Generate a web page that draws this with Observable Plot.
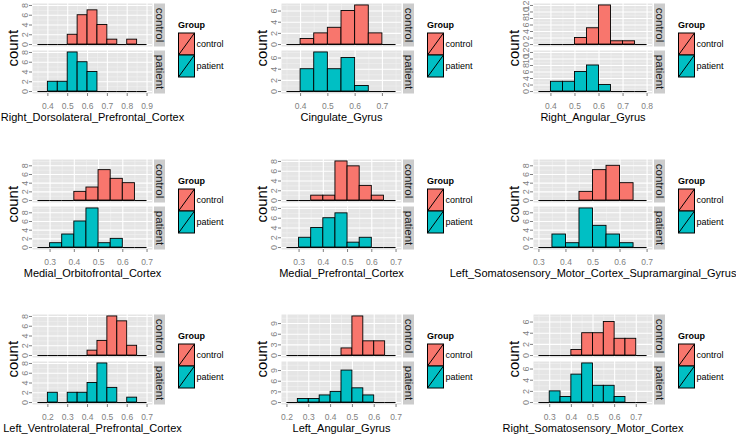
<!DOCTYPE html>
<html>
<head>
<meta charset="utf-8">
<script src="https://cdn.jsdelivr.net/npm/d3@7"></script>
<script src="https://cdn.jsdelivr.net/npm/@observablehq/plot@0.6"></script>
<style>
  html, body { margin: 0; padding: 0; background: white; }
  #chart { position: relative; width: 736px; height: 443px; overflow: hidden; background: white; }
  #chart > svg, #chart > figure { position: absolute; margin: 0; }
</style>
</head>
<body>
<div id="chart"></div>
<script>
// ---------------- data ----------------
const regions = [
  "Right_Dorsolateral_Prefrontal_Cortex", "Cingulate_Gyrus", "Right_Angular_Gyrus",
  "Medial_Orbitofrontal_Cortex", "Medial_Prefrontal_Cortex", "Left_Somatosensory_Motor_Cortex_Supramarginal_Gyrus",
  "Left_Ventrolateral_Prefrontal_Cortex", "Left_Angular_Gyrus", "Right_Somatosensory_Motor_Cortex"
];
const groups = ["control", "patient"];
const binLow = [0.35, 0.35, 0.35, 0.25, 0.25, 0.30, 0.15, 0.20, 0.25];
const binWidth = 0.05;
const controlCounts = [
  [0, 0, 0, 2, 6, 7, 4, 1, 0, 1, 0],
  [0, 1, 2, 3, 6, 7, 2, 0],
  [0, 0, 0, 2, 5, 12, 1, 1, 0],
  [0, 0, 0, 2, 3, 7, 5, 4, 0],
  [0, 0, 1, 1, 8, 7, 3, 1, 0],
  [0, 0, 0, 2, 7, 8, 4, 0],
  [0, 0, 0, 0, 0, 1, 3, 8, 7, 2, 0],
  [0, 0, 0, 0, 0, 2, 11, 4, 4, 0],
  [0, 0, 0, 1, 4, 4, 6, 3, 3, 0]
];
const patientCounts = [
  [0, 2, 2, 8, 6, 4, 0, 0, 0, 0, 0],
  [0, 4, 7, 4, 6, 1, 0, 0],
  [0, 3, 3, 6, 8, 2, 0, 0, 0],
  [0, 1, 3, 6, 9, 1, 2, 0, 0],
  [0, 2, 4, 6, 7, 1, 2, 0, 0],
  [0, 3, 1, 9, 5, 3, 1, 0],
  [0, 2, 0, 2, 2, 4, 8, 3, 0, 1, 0],
  [0, 1, 1, 2, 3, 9, 4, 2, 0, 0],
  [0, 2, 1, 5, 7, 3, 3, 1, 0, 0]
];
const xTicks = [
  [0.4, 0.5, 0.6, 0.7, 0.8, 0.9],
  [0.4, 0.5, 0.6, 0.7],
  [0.4, 0.5, 0.6, 0.7, 0.8],
  [0.3, 0.4, 0.5, 0.6, 0.7],
  [0.3, 0.4, 0.5, 0.6, 0.7],
  [0.3, 0.4, 0.5, 0.6, 0.7],
  [0.2, 0.3, 0.4, 0.5, 0.6, 0.7],
  [0.2, 0.3, 0.4, 0.5, 0.6, 0.7],
  [0.3, 0.4, 0.5, 0.6, 0.7]
];
const yTicks = [
  [0, 2, 4, 6, 8],
  [0, 2, 4, 6],
  [0, 2, 4, 6, 8, 10, 12],
  [0, 2, 4, 6, 8],
  [0, 2, 4, 6, 8],
  [0, 2, 4, 6, 8],
  [0, 2, 4, 6, 8],
  [0, 3, 6, 9],
  [0, 2, 4, 6]
];
const groupColors = ["#F8766D", "#00BFC4"];
const legendTitle = "Group";
const yLabel = "count";

// ---------------- layout / style ----------------
const FONT = "'Liberation Sans', Arial, Helvetica, sans-serif";
const colX = [0, 245, 490];
const rowY = [0, 156, 311];
const frameL = [32, 281, 533];
const frameR = [152, 401, 652];
const COLW = 245, PH = 140;
const TOP = 3, BOTTOM = 93.5;
const GREY = "#7F7F7F";

function minorOf(ticks, lo, hi) {
  const step = ticks[1] - ticks[0];
  const m = ticks.map(v => v - step / 2).concat([ticks[ticks.length - 1] + step / 2]);
  return m.filter(v => v > lo && v < hi);
}

const chart = document.getElementById("chart");

regions.forEach((name, i) => {
  const r = Math.floor(i / 3), c = i % 3;
  const bins = [];
  [controlCounts[i], patientCounts[i]].forEach((arr, gi) => {
    arr.forEach((n, k) => bins.push({
      group: groups[gi],
      x1: binLow[i] + k * binWidth,
      x2: binLow[i] + (k + 1) * binWidth,
      n
    }));
  });
  const lo = binLow[i], hi = binLow[i] + controlCounts[i].length * binWidth;
  const M = d3.max(bins, d => d.n);
  const xd = [lo - 0.05 * (hi - lo), hi + 0.05 * (hi - lo)];
  const yd = [-0.05 * M, 1.05 * M];
  const mL = frameL[c] - colX[c];
  const mR = COLW - (frameR[c] - colX[c]);
  const innerW = COLW - mL - mR;

  const svg = Plot.plot({
    width: COLW,
    height: PH,
    marginLeft: mL,
    marginRight: mR,
    marginTop: TOP,
    marginBottom: PH - BOTTOM,
    style: {background: "transparent", overflow: "visible", fontFamily: FONT},
    x: {domain: xd},
    y: {domain: yd},
    fy: {domain: groups, paddingInner: 0.095, paddingOuter: 0, axis: null},
    color: {domain: groups, range: groupColors},
    marks: [
      Plot.frame({fill: "#E5E5E5", stroke: "none"}),
      Plot.ruleX(minorOf(xTicks[i], xd[0], xd[1]), {stroke: "#F2F2F2", strokeWidth: 0.6}),
      Plot.ruleY(minorOf(yTicks[i], yd[0], yd[1]), {stroke: "#F2F2F2", strokeWidth: 0.6}),
      Plot.ruleX(xTicks[i], {stroke: "white", strokeWidth: 1.1}),
      Plot.ruleY(yTicks[i], {stroke: "white", strokeWidth: 1.1}),
      Plot.ruleY(bins, {fy: "group", x1: "x1", x2: "x2", y: 0, stroke: "black", strokeWidth: 1}),
      Plot.rect(bins.filter(d => d.n > 0), {
        fy: "group", x1: "x1", x2: "x2", y1: 0, y2: "n",
        fill: "group", stroke: "black", strokeWidth: 0.9
      }),
      Plot.frame({fill: "#CCCCCC", stroke: "none", insetLeft: innerW + 1.5, insetRight: -12.5}),
      Plot.text(groups, {
        fy: d => d, text: d => d, frameAnchor: "right", dx: 7, rotate: 90,
        textAnchor: "middle", lineAnchor: "middle",
        fontSize: 11.5, fill: "#1A1A1A"
      }),
      Plot.axisX({
        ticks: xTicks[i], tickFormat: d3.format(".1f"), tickSize: 3, tickPadding: 6,
        color: GREY, fontSize: 8.5, label: null
      }),
      Plot.axisY({
        ticks: yTicks[i], tickFormat: d3.format("d"), tickSize: 3, tickPadding: 2, tickRotate: -90,
        color: GREY, fontSize: 9, label: null
      }),
      Plot.text([{g: "patient", t: name}], {
        fy: "g", text: "t", frameAnchor: "bottom", dy: 27.5,
        textAnchor: "middle", fontSize: 11, fill: "black"
      })
    ]
  });
  svg.style.left = colX[c] + "px";
  svg.style.top = rowY[r] + "px";
  chart.appendChild(svg);
});

// ---------------- overlay: y titles and legends ----------------
const ov = d3.select(chart).append("svg")
  .attr("width", 736).attr("height", 443)
  .style("left", "0px").style("top", "0px")
  .style("overflow", "visible").style("pointer-events", "none");

regions.forEach((name, i) => {
  const r = Math.floor(i / 3), c = i % 3;
  const oy = rowY[r];
  // y axis title
  ov.append("text")
    .attr("transform", `translate(${frameL[c] - 19},${oy + (TOP + BOTTOM) / 2}) rotate(-90)`)
    .attr("text-anchor", "middle").attr("dy", "0.35em")
    .style("font-family", FONT).style("font-size", "15px").attr("fill", "black")
    .text(yLabel);
  // legend
  const lx = frameR[c] + 26;
  const g = ov.append("g").attr("transform", `translate(${lx},${oy})`);
  g.append("text").attr("x", 0).attr("y", 25).attr("dy", "0.35em")
    .style("font-family", FONT).style("font-size", "9px").style("font-weight", "bold")
    .text(legendTitle);
  groups.forEach((grp, k) => {
    const by = 33 + k * 22;
    g.append("rect").attr("x", 0.5).attr("y", by).attr("width", 16).attr("height", 22)
      .attr("fill", groupColors[k]).attr("stroke", "black").attr("stroke-width", 1);
    g.append("line").attr("x1", 0.5).attr("y1", by + 22).attr("x2", 16.5).attr("y2", by)
      .attr("stroke", "black").attr("stroke-width", 1);
    g.append("text").attr("x", 18.5).attr("y", by + 11).attr("dy", "0.35em")
      .style("font-family", FONT).style("font-size", "9px")
      .text(grp);
  });
});
</script>
</body>
</html>
